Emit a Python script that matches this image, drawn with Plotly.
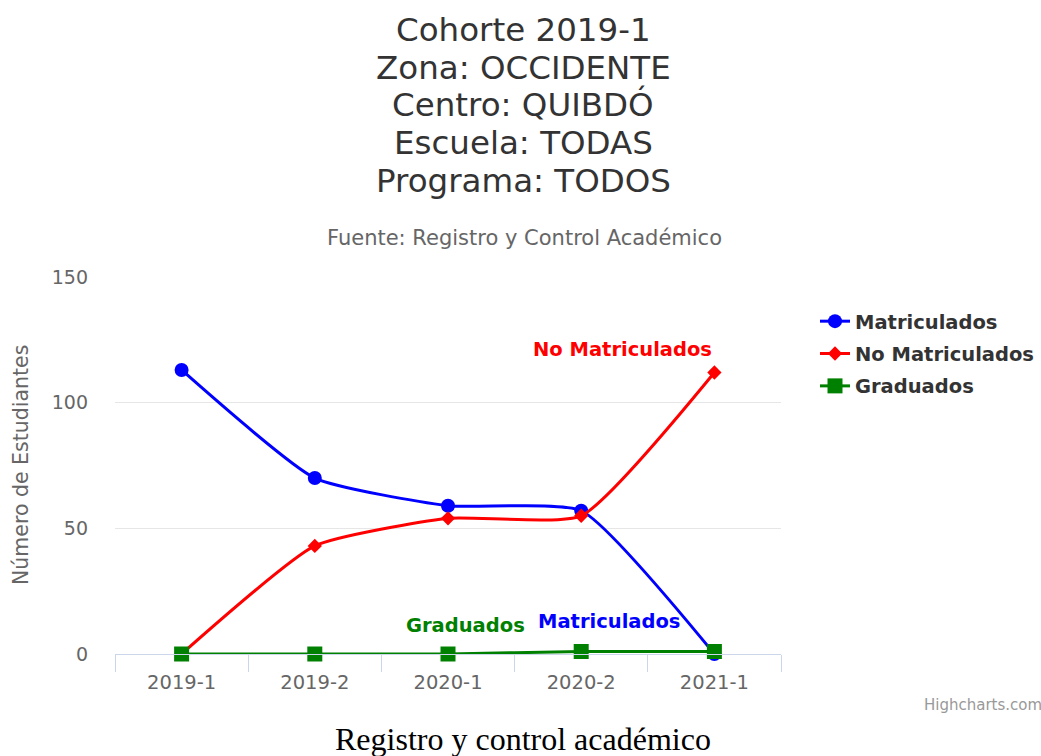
import plotly.graph_objects as go

# ---- data ----
categories = ["2019-1", "2019-2", "2020-1", "2020-2", "2021-1"]
matriculados = [113, 70, 59, 57, 0]
no_matriculados = [0, 43, 54, 55, 112]
graduados = [0, 0, 0, 1, 1]
series_names = ["Matriculados", "No Matriculados", "Graduados"]
title_lines = ["Cohorte 2019-1", "Zona: OCCIDENTE", "Centro: QUIBDÓ",
               "Escuela: TODAS", "Programa: TODOS"]
subtitle = "Fuente: Registro y Control Académico"
y_title = "Número de Estudiantes"
caption = "Registro y control académico"
credits = "Highcharts.com"

# ---- layout geometry (pixels) ----
W, H = 1041, 756
L, R, T, B = 115, 781, 277, 654
FONT = "DejaVu Sans"


def px_x(px):
    return (px - L) / (R - L)


def px_y(py):
    return (B - py) / (B - T)


fig = go.Figure()
colors = ["#0000ff", "#ff0000", "#008000"]
symbols = ["circle", "diamond", "square"]
sizes = [14, 11, 15]
for i, (name, vals) in enumerate(zip(series_names, [matriculados, no_matriculados, graduados])):
    fig.add_trace(go.Scatter(
        x=categories, y=vals, name=name, mode="lines+markers",
        line=dict(color=colors[i], width=3, shape="spline", smoothing=0.5),
        marker=dict(symbol=symbols[i], size=sizes[i], color=colors[i]),
        cliponaxis=False, legendgroup=name,
    ))

ann = []
title_centers = [30, 68, 105, 143, 181]
for line, cy in zip(title_lines, title_centers):
    ann.append(dict(text=line, x=px_x(523), y=px_y(cy), xref="paper", yref="paper",
                    xanchor="center", yanchor="middle", showarrow=False,
                    font=dict(family=FONT, size=32.5, color="#333333")))
ann.append(dict(text=subtitle, x=px_x(524), y=px_y(238), xref="paper", yref="paper",
                xanchor="center", yanchor="middle", showarrow=False,
                font=dict(family=FONT, size=21, color="#666666")))
ann.append(dict(text=y_title, x=px_x(21), y=px_y(465), xref="paper", yref="paper",
                xanchor="center", yanchor="middle", showarrow=False, textangle=-90,
                font=dict(family=FONT, size=20.5, color="#666666")))
ann.append(dict(text=caption, x=px_x(523), y=px_y(739), xref="paper", yref="paper",
                xanchor="center", yanchor="middle", showarrow=False,
                font=dict(family="Liberation Serif", size=32, color="#000000")))
ann.append(dict(text=credits, x=px_x(922), y=px_y(705), xref="paper", yref="paper",
                xanchor="left", yanchor="middle", showarrow=False,
                font=dict(family=FONT, size=15, color="#999999")))
# series labels
label_pos = [(3.21, 13.1), (3.31, 121), (2.135, 11.3)]
for i, name in enumerate(series_names):
    ann.append(dict(text="<b>%s</b>" % name, x=label_pos[i][0], y=label_pos[i][1],
                    xref="x", yref="y", xanchor="center", yanchor="middle",
                    showarrow=False, font=dict(family=FONT, size=19.5, color=colors[i])))

fig.update_layout(
    width=W, height=H,
    margin=dict(l=L, r=W - R, t=T, b=H - B, autoexpand=False),
    paper_bgcolor="white", plot_bgcolor="white",
    showlegend=True,
    legend=dict(x=px_x(815), y=px_y(302), xanchor="left", yanchor="top",
                traceorder="grouped", tracegroupgap=4,
                font=dict(family=FONT, size=19.5, color="#333333", weight="bold"),
                bgcolor="rgba(0,0,0,0)", itemwidth=30),
    annotations=ann,
    xaxis=dict(type="category", range=[-0.5, 4.5], showgrid=False, zeroline=False,
               showline=True, linecolor="#ccd6eb", linewidth=1,
               ticks="outside", tickson="boundaries", ticklen=17, tickcolor="#ccd6eb",
               ticklabelstandoff=11,
               tickfont=dict(family=FONT, size=19.5, color="#666666"), fixedrange=True),
    yaxis=dict(range=[0, 150], dtick=50, showgrid=True, gridcolor="#e6e6e6", gridwidth=1,
               zeroline=False, showline=False, ticks="", ticklabelstandoff=26,
               tickfont=dict(family=FONT, size=19, color="#666666"), fixedrange=True),
)

fig.write_html("out.html", config={"displayModeBar": False},
               post_script="document.body.style.margin='0';document.body.style.overflow='hidden';")
